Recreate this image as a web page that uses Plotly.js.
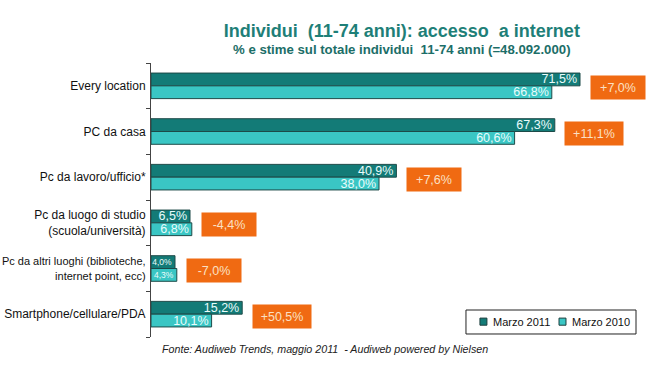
<!DOCTYPE html>
<html>
<head>
<meta charset="utf-8">
<script src="https://cdn.plot.ly/plotly-3.0.1.min.js"></script>
<style>html,body{margin:0;padding:0;background:#fff;overflow:hidden}#chart{width:662px;height:379px}</style>
</head>
<body>
<div id="chart"></div>
<script>
var categories = [
  "Every location",
  "PC da casa",
  "Pc da lavoro/ufficio*",
  "Pc da luogo di studio<br>(scuola/università)",
  "Pc da altri luoghi (biblioteche,<br>internet point, ecc)",
  "Smartphone/cellulare/PDA"
];
var marzo2011 = [71.5, 67.3, 40.9, 6.5, 4.0, 15.2];
var marzo2010 = [66.8, 60.6, 38.0, 6.8, 4.3, 10.1];
var variazioni = ["+7,0%", "+11,1%", "+7,6%", "-4,4%", "-7,0%", "+50,5%"];
var seriesNames = ["Marzo 2011", "Marzo 2010"];

function fmt(v){ return v.toFixed(1).replace('.', ',') + '%'; }

var FONT = 'Liberation Sans, Arial, sans-serif';
var colors = ['#137b77', '#3ac6c4'];

// the longest category label is drawn a bit smaller so it stays on the page
var tickText = categories.map(function(c){
  return c.length > 48 ? '<span style="font-size:11px">' + c + '</span>' : c;
});

var traces = [marzo2011, marzo2010].map(function(vals, k){
  return {
    type: 'bar', orientation: 'h', name: seriesNames[k],
    y: categories, x: vals,
    text: vals.map(fmt), textposition: 'inside', insidetextanchor: 'end',
    constraintext: 'none', cliponaxis: false,
    textfont: {family: FONT, color: '#eafcfc', size: vals.map(function(v){ return v < 5 ? 8.5 : 12.5; })},
    marker: {color: colors[k], line: {color: '#1d4a48', width: 1}},
    hoverinfo: 'none', showlegend: false
  };
});

var annotations = categories.map(function(c, i){
  var m = Math.max(marzo2011[i], marzo2010[i]);
  return {
    x: m + 1.6, y: c, xref: 'x', yref: 'y', xanchor: 'left', yanchor: 'middle',
    text: variazioni[i], showarrow: false, yshift: -2,
    bgcolor: '#f06a12', borderpad: 4, width: variazioni[i].length > 5 ? 50 : 46, height: 15,
    font: {family: FONT, size: 12.5, color: '#fbe0c4'}
  };
});
annotations.push({
  xref: 'paper', yref: 'paper', x: 0.018, y: -0.044, xanchor: 'left', yanchor: 'middle',
  showarrow: false,
  text: '<i>Fonte: Audiweb Trends, maggio 2011  - Audiweb powered by Nielsen</i>',
  font: {family: FONT, size: 10.7, color: '#222'}
});
annotations.push({
  xref: 'paper', yref: 'paper', x: 0.492, y: 1.05, xanchor: 'center', yanchor: 'middle',
  showarrow: false,
  text: '<b>% e stime sul totale individui  11-74 anni (=48.092.000)</b>',
  font: {family: FONT, size: 13.2, color: '#1c6e68'}
});

// Legend box (drawn as layout shapes + text)
var shapes = [{
  type: 'rect', xref: 'paper', yref: 'paper', x0: 0.6176, x1: 0.951, y0: 0.011, y1: 0.0985,
  line: {color: '#222', width: 1}, fillcolor: '#fff', layer: 'above'
}];
var legX = [0.645, 0.800];
seriesNames.forEach(function(n, k){
  shapes.push({
    type: 'rect', xref: 'paper', yref: 'paper', x0: legX[k], x1: legX[k] + 0.0137,
    y0: 0.043, y1: 0.069, fillcolor: colors[k], line: {color: '#1d3f3e', width: 1}, layer: 'above'
  });
  annotations.push({
    xref: 'paper', yref: 'paper', x: legX[k] + 0.022, y: 0.055, xanchor: 'left', yanchor: 'middle',
    showarrow: false, text: n, font: {family: FONT, size: 11, color: '#111'}
  });
});

var layout = {
  width: 662, height: 379,
  margin: {l: 151, r: 1, t: 63, b: 42},
  paper_bgcolor: '#fff', plot_bgcolor: '#fff',
  title: {
    text: '<b>Individui  (11-74 anni): accesso  a internet</b>',
    x: 0.607, xanchor: 'center', y: 0.918, yanchor: 'middle',
    font: {family: FONT, size: 18, color: '#1e7f78'}
  },
  barmode: 'group', bargap: 0.44, bargroupgap: 0,
  xaxis: {range: [0, 85], visible: false, fixedrange: true},
  yaxis: {
    autorange: 'reversed', showline: true, linecolor: '#444', linewidth: 1,
    ticks: 'outside', tickson: 'boundaries', ticklen: 4, tickcolor: '#444',
    tickmode: 'array', tickvals: categories, ticktext: tickText,
    showgrid: false, automargin: false, ticklabelstandoff: 2,
    tickfont: {family: FONT, size: 12, color: '#111'}
  },
  showlegend: false,
  shapes: shapes,
  annotations: annotations
};

Plotly.newPlot('chart', traces, layout, {displayModeBar: false, staticPlot: true});
</script>
</body>
</html>
